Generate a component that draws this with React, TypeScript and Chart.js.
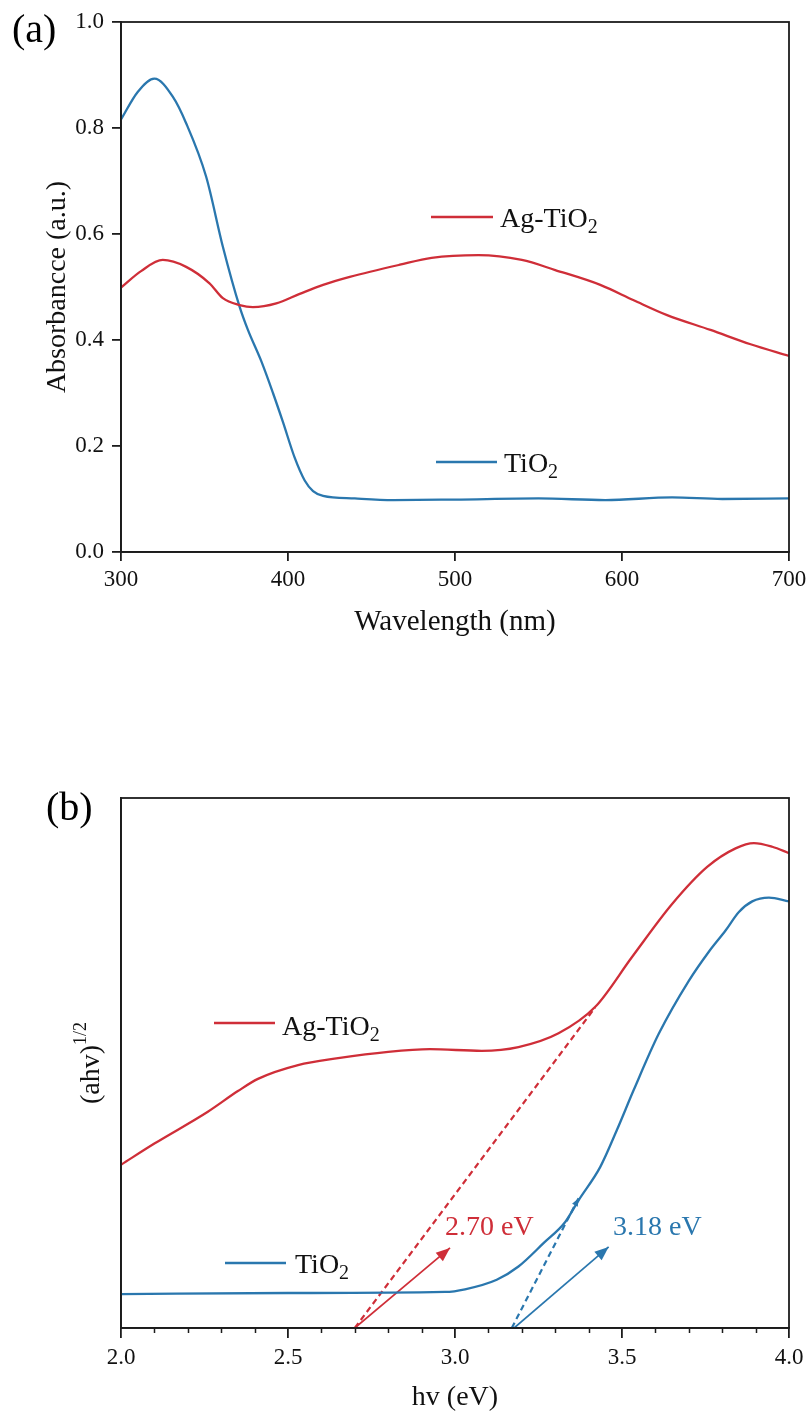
import React, { useEffect, useRef } from 'react';
import { Chart, registerables } from 'chart.js';

Chart.register(...registerables);

const FONT = '"Liberation Serif", "Times New Roman", Times, serif';
const RED = '#cf2e38';
const BLUE = '#2a77ae';
const AXIS = '#1c1c1c';

// ---------- Panel (a): UV-Vis absorbance ----------
const wavelengthTicks = [300, 400, 500, 600, 700];
const absorbanceTicks = [0, 0.2, 0.4, 0.6, 0.8, 1.0];

const tio2Wavelength = [300, 310, 320, 331, 339, 351, 361, 371, 376, 384, 391, 397, 404, 410, 415, 421, 440, 463, 500, 550, 590, 630, 660, 700];
const tio2Absorbance = [0.816, 0.868, 0.893, 0.859, 0.809, 0.708, 0.576, 0.463, 0.419, 0.36, 0.30, 0.245, 0.178, 0.135, 0.115, 0.106, 0.101, 0.098, 0.099, 0.101, 0.098, 0.103, 0.100, 0.101];

const agWavelength = [300, 312, 325, 339, 353, 361, 371, 379, 393, 407, 421, 437, 467, 486, 514, 540, 560, 587, 607, 627, 653, 677, 700];
const agAbsorbance = [0.499, 0.53, 0.551, 0.538, 0.507, 0.479, 0.466, 0.462, 0.469, 0.487, 0.504, 0.519, 0.542, 0.555, 0.560, 0.551, 0.532, 0.504, 0.475, 0.447, 0.419, 0.392, 0.370];

// ---------- Panel (b): Tauc plot ----------
const energyTicks = [2.0, 2.5, 3.0, 3.5, 4.0];
const energyMinorTicks = [2.1, 2.2, 2.3, 2.4, 2.6, 2.7, 2.8, 2.9, 3.1, 3.2, 3.3, 3.4, 3.6, 3.7, 3.8, 3.9];

const agEnergy = [2.00, 2.10, 2.26, 2.35, 2.41, 2.53, 2.65, 2.80, 2.925, 3.08, 3.19, 3.31, 3.42, 3.53, 3.65, 3.755, 3.84, 3.895, 3.95, 4.00];
const agTauc = [0.308, 0.348, 0.408, 0.447, 0.470, 0.496, 0.509, 0.521, 0.526, 0.523, 0.530, 0.556, 0.606, 0.700, 0.800, 0.870, 0.905, 0.915, 0.908, 0.896];

const tio2Energy = [2.00, 2.50, 2.97, 3.03, 3.125, 3.19, 3.265, 3.33, 3.37, 3.435, 3.485, 3.535, 3.61, 3.70, 3.76, 3.81, 3.85, 3.89, 3.94, 4.00];
const tio2Tauc = [0.064, 0.066, 0.068, 0.073, 0.091, 0.116, 0.160, 0.200, 0.241, 0.304, 0.374, 0.449, 0.555, 0.655, 0.710, 0.750, 0.785, 0.805, 0.812, 0.805];

const agTangentE = [2.70, 3.42];
const agTangentY = [0, 0.605];
const tio2TangentE = [3.17, 3.37];
const tio2TangentY = [0, 0.245];

const agArrowE = [2.70, 2.985];
const agArrowY = [0, 0.151];
const tio2ArrowE = [3.177, 3.46];
const tio2ArrowY = [0, 0.153];

const bandGapLabels = ['2.70 eV', '3.18 eV'];
const seriesNames = ['Ag-TiO', 'TiO'];

type Seg = { t: string; size: number; dy: number };

const zip = (xs: number[], ys: number[]) => xs.map((x, i) => ({ x, y: ys[i] }));

function drawRich(ctx: CanvasRenderingContext2D, x: number, y: number, segs: Seg[], color: string, align: 'left' | 'center' = 'left') {
  ctx.save();
  ctx.fillStyle = color;
  ctx.textBaseline = 'alphabetic';
  ctx.textAlign = 'left';
  let total = 0;
  for (const s of segs) {
    ctx.font = `${s.size}px ${FONT}`;
    total += ctx.measureText(s.t).width;
  }
  let cx = align === 'center' ? x - total / 2 : x;
  for (const s of segs) {
    ctx.font = `${s.size}px ${FONT}`;
    ctx.fillText(s.t, cx, y + s.dy);
    cx += ctx.measureText(s.t).width;
  }
  ctx.restore();
}

function drawRotated(ctx: CanvasRenderingContext2D, x: number, y: number, segs: Seg[], color: string) {
  ctx.save();
  ctx.translate(x, y);
  ctx.rotate(-Math.PI / 2);
  drawRich(ctx, 0, 0, segs, color, 'center');
  ctx.restore();
}

function legendLine(ctx: CanvasRenderingContext2D, x1: number, x2: number, y: number, color: string) {
  ctx.save();
  ctx.strokeStyle = color;
  ctx.lineWidth = 2.3;
  ctx.beginPath();
  ctx.moveTo(x1, y);
  ctx.lineTo(x2, y);
  ctx.stroke();
  ctx.restore();
}

function frame(chart: any) {
  const { ctx, chartArea: a } = chart;
  ctx.save();
  ctx.strokeStyle = AXIS;
  ctx.lineWidth = 1.8;
  ctx.strokeRect(a.left, a.top, a.right - a.left, a.bottom - a.top);
  ctx.restore();
}

function arrowHeads(chart: any) {
  const ctx = chart.ctx;
  chart.data.datasets.forEach((ds: any, i: number) => {
    if (!ds.arrowSize) return;
    const pts = chart.getDatasetMeta(i).data;
    if (pts.length < 2) return;
    const p1 = pts[pts.length - 2];
    const p2 = pts[pts.length - 1];
    const ang = Math.atan2(p2.y - p1.y, p2.x - p1.x);
    const L = ds.arrowSize;
    const W = L * 0.4;
    ctx.save();
    ctx.fillStyle = ds.borderColor;
    ctx.beginPath();
    ctx.moveTo(p2.x, p2.y);
    ctx.lineTo(p2.x - L * Math.cos(ang) + W * Math.sin(ang), p2.y - L * Math.sin(ang) - W * Math.cos(ang));
    ctx.lineTo(p2.x - L * Math.cos(ang) - W * Math.sin(ang), p2.y - L * Math.sin(ang) + W * Math.cos(ang));
    ctx.closePath();
    ctx.fill();
    ctx.restore();
  });
}

const fixBox = (w: number | null, h: number | null) => (scale: any) => {
  if (w !== null) scale.width = w;
  if (h !== null) scale.height = h;
  scale.paddingLeft = 0;
  scale.paddingRight = 0;
  scale.paddingTop = 0;
  scale.paddingBottom = 0;
};

const W = 811;
const H1 = 660;
const H2 = 758;

export default function App() {
  const ref1 = useRef<HTMLCanvasElement>(null);
  const ref2 = useRef<HTMLCanvasElement>(null);

  useEffect(() => {
    const tickFont = { family: FONT, size: 23 };

    const lineDs = (label: string, data: any[], color: string, extra: any = {}) => ({
      label,
      data,
      borderColor: color,
      backgroundColor: color,
      borderWidth: 2.3,
      pointRadius: 0,
      fill: false,
      cubicInterpolationMode: 'monotone',
      ...extra,
    });

    // ---------- Chart (a) ----------
    const pluginA = {
      id: 'decorA',
      afterDraw(chart: any) {
        const ctx = chart.ctx;
        frame(chart);
        drawRich(ctx, 12, 42, [{ t: '(a)', size: 40, dy: 0 }], '#000');
        drawRich(ctx, (chart.chartArea.left + chart.chartArea.right) / 2, 630, [{ t: 'Wavelength (nm)', size: 29, dy: 0 }], '#111', 'center');
        drawRotated(ctx, 65, (chart.chartArea.top + chart.chartArea.bottom) / 2, [{ t: 'Absorbancce (a.u.)', size: 28, dy: 0 }], '#111');
        legendLine(ctx, 431, 493, 217, RED);
        drawRich(ctx, 500, 227, [{ t: seriesNames[0], size: 28, dy: 0 }, { t: '2', size: 20, dy: 6 }], '#111');
        legendLine(ctx, 436, 497, 462, BLUE);
        drawRich(ctx, 504, 472, [{ t: seriesNames[1], size: 28, dy: 0 }, { t: '2', size: 20, dy: 6 }], '#111');
      },
    };

    const chartA = new Chart(ref1.current!, {
      type: 'line',
      data: {
        datasets: [
          lineDs('Ag-TiO2', zip(agWavelength, agAbsorbance), RED),
          lineDs('TiO2', zip(tio2Wavelength, tio2Absorbance), BLUE),
        ],
      },
      options: {
        responsive: false,
        animation: false,
        devicePixelRatio: 1,
        layout: { padding: { left: 0, top: 22, right: W - 789, bottom: 0 } },
        plugins: { legend: { display: false }, tooltip: { enabled: false } },
        scales: {
          x: {
            type: 'linear',
            min: 300,
            max: 700,
            afterBuildTicks: (s: any) => { s.ticks = wavelengthTicks.map((v) => ({ value: v })); },
            afterFit: fixBox(null, H1 - 552),
            ticks: { font: tickFont, color: '#111', padding: 5, maxRotation: 0, autoSkip: false, callback: (v: any) => String(v) },
            grid: { drawOnChartArea: false, drawTicks: true, tickLength: 9, color: AXIS, lineWidth: 1.8 },
            border: { display: true, color: AXIS, width: 1.8 },
          },
          y: {
            type: 'linear',
            min: 0,
            max: 1,
            afterBuildTicks: (s: any) => { s.ticks = absorbanceTicks.map((v) => ({ value: v })); },
            afterFit: fixBox(121, null),
            ticks: { font: tickFont, color: '#111', padding: 8, autoSkip: false, callback: (v: any) => Number(v).toFixed(1) },
            grid: { drawOnChartArea: false, drawTicks: true, tickLength: 9, color: AXIS, lineWidth: 1.8 },
            border: { display: true, color: AXIS, width: 1.8 },
          },
        },
      } as any,
      plugins: [pluginA],
    });

    // ---------- Chart (b) ----------
    const pluginB = {
      id: 'decorB',
      afterDraw(chart: any) {
        const ctx = chart.ctx;
        const a = chart.chartArea;
        const xs = chart.scales.x;
        frame(chart);
        ctx.save();
        ctx.strokeStyle = AXIS;
        ctx.lineWidth = 1.5;
        ctx.beginPath();
        for (const v of energyMinorTicks) {
          const px = Math.round(xs.getPixelForValue(v)) + 0.5;
          ctx.moveTo(px, a.bottom);
          ctx.lineTo(px, a.bottom + 5);
        }
        ctx.stroke();
        ctx.restore();
        drawRich(ctx, 46, 160, [{ t: '(b)', size: 40, dy: 0 }], '#000');
        drawRich(ctx, (a.left + a.right) / 2, 745, [{ t: 'hv (eV)', size: 28, dy: 0 }], '#111', 'center');
        drawRotated(ctx, 99, (a.top + a.bottom) / 2, [{ t: '(ahv)', size: 28, dy: 0 }, { t: '1/2', size: 18, dy: -13 }], '#111');
        legendLine(ctx, 214, 275, 363, RED);
        drawRich(ctx, 282, 375, [{ t: seriesNames[0], size: 28, dy: 0 }, { t: '2', size: 20, dy: 6 }], '#111');
        legendLine(ctx, 225, 286, 603, BLUE);
        drawRich(ctx, 295, 613, [{ t: seriesNames[1], size: 28, dy: 0 }, { t: '2', size: 20, dy: 6 }], '#111');
        drawRich(ctx, 445, 575, [{ t: bandGapLabels[0], size: 28, dy: 0 }], RED);
        drawRich(ctx, 613, 575, [{ t: bandGapLabels[1], size: 28, dy: 0 }], BLUE);
      },
      afterDatasetsDraw(chart: any) {
        arrowHeads(chart);
      },
    };

    const chartB = new Chart(ref2.current!, {
      type: 'line',
      data: {
        datasets: [
          lineDs('Ag-TiO2', zip(agEnergy, agTauc), RED),
          lineDs('TiO2', zip(tio2Energy, tio2Tauc), BLUE),
          lineDs('Ag tangent', zip(agTangentE, agTangentY), RED, { borderWidth: 2.2, borderDash: [6, 4], cubicInterpolationMode: 'default', tension: 0 }),
          lineDs('TiO2 tangent', zip(tio2TangentE, tio2TangentY), BLUE, { borderWidth: 2.2, borderDash: [6, 4], cubicInterpolationMode: 'default', tension: 0, arrowSize: 8 }),
          lineDs('Ag arrow', zip(agArrowE, agArrowY), RED, { borderWidth: 1.7, cubicInterpolationMode: 'default', tension: 0, arrowSize: 14 }),
          lineDs('TiO2 arrow', zip(tio2ArrowE, tio2ArrowY), BLUE, { borderWidth: 1.7, cubicInterpolationMode: 'default', tension: 0, arrowSize: 14 }),
        ],
      },
      options: {
        responsive: false,
        animation: false,
        devicePixelRatio: 1,
        layout: { padding: { left: 0, top: 798 - H1, right: W - 789, bottom: 0 } },
        plugins: { legend: { display: false }, tooltip: { enabled: false } },
        scales: {
          x: {
            type: 'linear',
            min: 2,
            max: 4,
            afterBuildTicks: (s: any) => { s.ticks = energyTicks.map((v) => ({ value: v })); },
            afterFit: fixBox(null, H1 + H2 - 1328),
            ticks: { font: tickFont, color: '#111', padding: 6, maxRotation: 0, autoSkip: false, callback: (v: any) => Number(v).toFixed(1) },
            grid: { drawOnChartArea: false, drawTicks: true, tickLength: 10, color: AXIS, lineWidth: 1.8 },
            border: { display: true, color: AXIS, width: 1.8 },
          },
          y: {
            type: 'linear',
            min: 0,
            max: 1,
            afterFit: fixBox(121, null),
            ticks: { display: false },
            grid: { drawOnChartArea: false, drawTicks: false },
            border: { display: true, color: AXIS, width: 1.8 },
          },
        },
      } as any,
      plugins: [pluginB],
    });

    return () => {
      chartA.destroy();
      chartB.destroy();
    };
  }, []);

  return (
    <div style={{ position: 'absolute', left: 0, top: 0, width: W, height: H1 + H2, background: '#fff' }}>
      <canvas ref={ref1} width={W} height={H1} style={{ position: 'absolute', left: 0, top: 0, width: W, height: H1 }} />
      <canvas ref={ref2} width={W} height={H2} style={{ position: 'absolute', left: 0, top: H1, width: W, height: H2 }} />
    </div>
  );
}
